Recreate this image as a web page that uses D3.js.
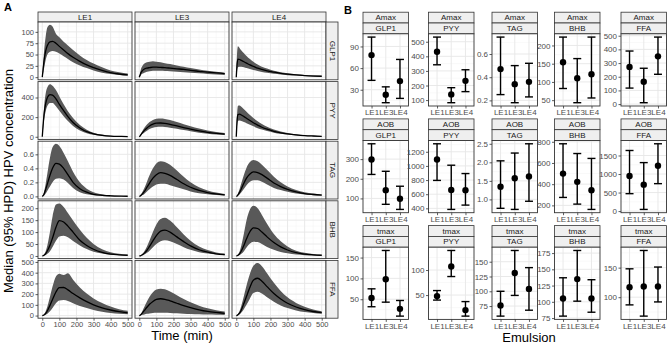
<!DOCTYPE html>
<html>
<head>
<meta charset="utf-8">
<script src="https://cdn.jsdelivr.net/npm/d3@7"></script>
<style>
body { margin: 0; background: #fff; }
svg { display: block; font-family: "Liberation Sans", Arial, sans-serif; }
</style>
</head>
<body>
<svg id="chart" width="669" height="347"></svg>
<script>
// ---- shared categories ----
const emulsions = ["LE1", "LE3", "LE4"]
const outcomes = ["GLP1", "PYY", "TAG", "BHB", "FFA"]
const metrics = ["Amax", "AOB", "tmax"]

// ---- panel A : median + 95% HPD over time (rows = emulsion LE1, LE3, LE4) ----
const times = [0, 5, 10, 20, 30, 45, 60, 80, 100, 125, 150, 180, 220, 260, 300, 350, 400, 450, 500]
const timeTicks = [0, 100, 200, 300, 400, 500]

const glp1Med = [
  [0, 18, 35, 58, 70, 78, 79, 75, 68, 60, 52, 44, 35, 27, 21, 15, 10, 7, 5],
  [0, 5, 10, 15, 18, 20, 21, 22, 22, 21.5, 21, 20, 18.5, 17, 15, 13, 11, 9.5, 8],
  [0, 30, 40, 39, 37, 34, 31, 27, 24, 20, 17, 14, 11, 8.5, 6.5, 5, 3.5, 2.5, 2]]
const glp1Lo = [
  [0, 8, 18, 38, 50, 56, 58, 56, 52, 46, 40, 33, 26, 20, 15, 10, 7, 5, 3],
  [0, 2, 5, 8, 10, 12, 13, 14, 14, 14, 13.5, 13, 12, 11, 10, 8.5, 7, 6, 5],
  [0, 15, 22, 23, 23, 22, 20, 18, 16, 13.5, 11.5, 9.5, 7.5, 6, 4.5, 3.5, 2.5, 1.8, 1.2]]
const glp1Hi = [
  [0, 30, 55, 90, 110, 116, 112, 96, 88, 78, 70, 60, 48, 38, 30, 22, 15, 11, 8],
  [0, 10, 18, 26, 30, 33, 34, 35, 34, 33, 31, 29, 26, 23, 20, 17, 14, 12, 10],
  [0, 55, 68, 64, 59, 53, 47, 40, 34, 28, 23, 19, 14, 11, 8.5, 6.5, 5, 4, 3]]

const pyyMed = [
  [0, 120, 220, 340, 400, 430, 425, 385, 330, 265, 205, 145, 90, 52, 30, 15, 7, 4, 2],
  [0, 10, 22, 45, 65, 90, 110, 128, 138, 140, 136, 126, 110, 94, 78, 60, 45, 34, 26],
  [0, 170, 225, 230, 222, 205, 188, 165, 143, 118, 97, 77, 56, 40, 29, 19, 12, 8, 5]]
const pyyLo = [
  [0, 80, 160, 260, 315, 345, 345, 310, 265, 210, 160, 110, 65, 36, 20, 9, 4, 2, 1],
  [0, 6, 14, 30, 44, 62, 78, 92, 100, 102, 100, 93, 81, 68, 56, 42, 31, 23, 17],
  [0, 115, 160, 165, 160, 150, 138, 122, 106, 88, 73, 58, 42, 30, 22, 14, 9, 6, 3.5]]
const pyyHi = [
  [0, 160, 290, 440, 505, 535, 520, 475, 410, 330, 260, 190, 120, 72, 42, 22, 11, 6, 3],
  [0, 15, 32, 65, 92, 125, 150, 172, 183, 186, 182, 170, 150, 128, 107, 84, 64, 49, 38],
  [0, 240, 315, 318, 305, 280, 255, 222, 192, 158, 130, 102, 74, 53, 38, 25, 16, 11, 7]]

const tagMed = [
  [0, 0.01, 0.03, 0.1, 0.18, 0.3, 0.4, 0.47, 0.46, 0.4, 0.31, 0.2, 0.11, 0.06, 0.03, 0.015, 0.008, 0.004, 0.002],
  [0, 0.005, 0.015, 0.04, 0.07, 0.13, 0.19, 0.26, 0.31, 0.34, 0.33, 0.3, 0.24, 0.18, 0.13, 0.085, 0.055, 0.035, 0.02],
  [0, 0.005, 0.02, 0.06, 0.11, 0.19, 0.26, 0.32, 0.35, 0.34, 0.31, 0.26, 0.19, 0.14, 0.1, 0.065, 0.04, 0.027, 0.018]]
const tagLo = [
  [0, 0.005, 0.01, 0.04, 0.08, 0.14, 0.2, 0.25, 0.26, 0.24, 0.19, 0.12, 0.06, 0.03, 0.015, 0.007, 0.003, 0.002, 0.001],
  [0, 0.002, 0.006, 0.018, 0.035, 0.07, 0.1, 0.14, 0.17, 0.18, 0.18, 0.16, 0.13, 0.1, 0.07, 0.045, 0.03, 0.02, 0.012],
  [0, 0.003, 0.01, 0.03, 0.06, 0.11, 0.16, 0.21, 0.23, 0.23, 0.21, 0.17, 0.12, 0.09, 0.065, 0.04, 0.025, 0.017, 0.011]]
const tagHi = [
  [0, 0.02, 0.06, 0.18, 0.33, 0.55, 0.7, 0.75, 0.72, 0.62, 0.5, 0.35, 0.2, 0.11, 0.06, 0.03, 0.015, 0.008, 0.004],
  [0, 0.01, 0.03, 0.07, 0.12, 0.21, 0.3, 0.4, 0.47, 0.5, 0.49, 0.45, 0.37, 0.28, 0.2, 0.13, 0.085, 0.055, 0.035],
  [0, 0.01, 0.04, 0.11, 0.19, 0.31, 0.41, 0.49, 0.52, 0.5, 0.45, 0.38, 0.28, 0.2, 0.14, 0.09, 0.06, 0.04, 0.027]]

const bhbMed = [
  [0, 1, 3, 10, 22, 45, 75, 120, 148, 142, 125, 100, 66, 44, 28, 15, 8, 5, 3],
  [0, 0.5, 2, 6, 12, 24, 40, 63, 85, 104, 108, 100, 80, 60, 42, 26, 16, 9, 6],
  [0, 1, 3, 10, 22, 45, 72, 102, 118, 115, 100, 80, 56, 38, 25, 14, 8, 5, 3]]
const bhbLo = [
  [0, 0.5, 1.5, 4, 9, 20, 38, 64, 82, 85, 78, 63, 44, 29, 18, 10, 5, 3, 1.5],
  [0, 0.3, 1, 3, 6, 13, 22, 36, 50, 62, 66, 62, 50, 37, 26, 16, 10, 6, 3.5],
  [0, 0.5, 1, 4, 9, 20, 35, 52, 60, 58, 50, 38, 26, 17, 11, 6, 3.5, 2, 1]]
const bhbHi = [
  [0, 2, 6, 20, 45, 100, 165, 215, 220, 205, 180, 148, 110, 76, 50, 28, 16, 9, 5],
  [0, 1, 3, 10, 20, 40, 65, 100, 132, 155, 160, 148, 120, 90, 64, 40, 25, 15, 10],
  [0, 2, 6, 20, 45, 95, 150, 195, 210, 200, 172, 135, 92, 62, 40, 22, 13, 8, 5]]

const ffaMed = [
  [0, 2, 6, 20, 45, 95, 150, 220, 260, 262, 240, 205, 165, 130, 100, 72, 52, 36, 26],
  [0, 3, 10, 28, 48, 78, 105, 132, 150, 157, 152, 138, 115, 93, 74, 54, 39, 29, 21],
  [0, 2, 8, 25, 55, 115, 180, 265, 330, 348, 320, 270, 205, 155, 115, 80, 55, 38, 27]]
const ffaLo = [
  [0, 1, 3, 8, 18, 40, 70, 115, 140, 145, 135, 115, 90, 70, 52, 36, 25, 17, 12],
  [0, 1, 3, 7, 11, 16, 20, 24, 26, 27, 26, 24, 21, 18, 15, 12, 9, 7, 5],
  [0, 1, 4, 12, 28, 62, 100, 160, 210, 222, 205, 170, 128, 95, 70, 48, 33, 23, 16]]
const ffaHi = [
  [0, 4, 12, 40, 85, 175, 270, 365, 390, 378, 395, 335, 262, 205, 160, 118, 85, 60, 44],
  [0, 5, 18, 48, 82, 132, 175, 218, 242, 250, 245, 225, 190, 155, 124, 92, 68, 50, 37],
  [0, 4, 15, 45, 95, 185, 280, 390, 465, 490, 460, 395, 305, 230, 170, 118, 82, 57, 40]]

const aTicks = [[0, 25, 50, 75, 100], [0, 200, 400], [0, 0.2, 0.4, 0.6], [0, 50, 100, 150, 200], [0, 100, 200, 300, 400, 500]]

// ---- panel B : posterior estimate with interval, per outcome (LE1, LE3, LE4) ----
const amaxMid = [[78, 23, 42], [431, 139, 232], [0.47, 0.34, 0.36], [154, 110, 121], [272, 163, 349]]
const amaxLo = [[43, 12, 18], [342, 82, 158], [0.25, 0.18, 0.23], [82, 43, 56], [117, 10, 218]]
const amaxHi = [[103, 34, 72], [532, 185, 308], [0.746, 0.5, 0.52], [223, 164, 223], [388, 262, 490]]

const aobMid = [[298, 142, 98], [1090, 660, 657], [1.34, 1.57, 1.62], [500, 422, 343], [946, 713, 1225]]
const aobLo = [[222, 70, 44], [795, 385, 446], [0.76, 0.73, 0.95], [275, 212, 162], [470, 45, 740]]
const aobHi = [[378, 238, 162], [1313, 1010, 892], [2.04, 2.25, 2.5], [781, 689, 643], [1635, 1308, 1816]]

const tmaxMid = [[53, 98, 27], [48, 107, 20], [76, 131, 104], [105, 135, 105], [117, 118, 118]]
const tmaxLo = [[32, 43, 9.5], [40, 87, 8], [58, 93, 68], [78, 101, 84], [87, 68, 92]]
const tmaxHi = [[75, 167, 47], [59, 139, 37], [100, 169, 140], [137, 179, 134], [148, 179, 151]]

const amaxTicks = [[30, 60, 90], [100, 200, 300, 400, 500], [0.2, 0.4, 0.6], [50, 100, 150, 200], [0, 100, 200, 300, 400, 500]]
const aobTicks = [[100, 200, 300], [400, 600, 800, 1000, 1200], [1.0, 1.5, 2.0, 2.5], [200, 400, 600, 800], [0, 500, 1000, 1500]]
const tmaxTicks = [[50, 100, 150], [50, 100], [75, 100, 125, 150], [75, 100, 125, 150, 175], [100, 150]]

// ---- helpers ----
const svg = d3.select("#chart")
const tickCol = "#4d4d4d", frameCol = "#333333"
const gridMajor = "#e6e6e6", gridMinor = "#f2f2f2"

const expand = (lo, hi) => [lo - (hi - lo) * 0.05, hi + (hi - lo) * 0.05]
const fmtFor = ticks => d3.format(ticks.some(t => !Number.isInteger(t)) ? ".1f" : "d")
const minorOf = (ticks, dom) => {
  const st = ticks[1] - ticks[0], out = []
  for (let v = ticks[0] - st / 2; v <= dom[1]; v += st) if (v >= dom[0]) out.push(v)
  return out
}

function styleAxis(g, size = "8px") {
  g.select(".domain").remove()
  g.selectAll(".tick line").attr("stroke", frameCol).attr("stroke-width", 0.8)
  g.selectAll(".tick text").attr("fill", tickCol).style("font-size", size)
    .style("font-family", "'Liberation Sans', Arial, sans-serif")
}

function strip(x, y, w, h, label, vertical) {
  svg.append("rect").attr("x", x).attr("y", y).attr("width", w).attr("height", h)
    .attr("fill", "#efefef").attr("stroke", frameCol).attr("stroke-width", 0.8)
  const t = svg.append("text").text(label).attr("fill", "#1a1a1a").style("font-size", "8px")
    .attr("text-anchor", "middle").attr("dominant-baseline", "central")
  if (vertical) t.attr("transform", `translate(${x + w / 2},${y + h / 2}) rotate(90)`)
  else t.attr("x", x + w / 2).attr("y", y + h / 2)
}

// ---- panel A ----
const aLeft = 38, aTop = 22, aW = 94, aH = 57.8, aGapX = 3, aGapY = 1.8
const ax = c => aLeft + c * (aW + aGapX)
const ay = r => aTop + r * (aH + aGapY)
const meds = [glp1Med, pyyMed, tagMed, bhbMed, ffaMed]
const los = [glp1Lo, pyyLo, tagLo, bhbLo, ffaLo]
const his = [glp1Hi, pyyHi, tagHi, bhbHi, ffaHi]
const xDom = expand(0, d3.max(times))

emulsions.forEach((e, c) => strip(ax(c), 12, aW, aTop - 12, e, false))

outcomes.forEach((o, r) => {
  const yDom = expand(0, d3.max(his[r].flat()))
  const y = d3.scaleLinear().domain(yDom).range([ay(r) + aH, ay(r)])
  const yFmt = fmtFor(aTicks[r])

  emulsions.forEach((e, c) => {
    const x = d3.scaleLinear().domain(xDom).range([ax(c), ax(c) + aW])
    const g = svg.append("g")
    g.append("rect").attr("x", ax(c)).attr("y", ay(r)).attr("width", aW).attr("height", aH).attr("fill", "#fff")
    minorOf(timeTicks, xDom).forEach(v => g.append("line").attr("x1", x(v)).attr("x2", x(v))
      .attr("y1", ay(r)).attr("y2", ay(r) + aH).attr("stroke", gridMinor).attr("stroke-width", 0.5))
    minorOf(aTicks[r], yDom).forEach(v => g.append("line").attr("y1", y(v)).attr("y2", y(v))
      .attr("x1", ax(c)).attr("x2", ax(c) + aW).attr("stroke", gridMinor).attr("stroke-width", 0.5))
    timeTicks.forEach(v => g.append("line").attr("x1", x(v)).attr("x2", x(v))
      .attr("y1", ay(r)).attr("y2", ay(r) + aH).attr("stroke", gridMajor).attr("stroke-width", 0.9))
    aTicks[r].forEach(v => g.append("line").attr("y1", y(v)).attr("y2", y(v))
      .attr("x1", ax(c)).attr("x2", ax(c) + aW).attr("stroke", gridMajor).attr("stroke-width", 0.9))

    const pts = times.map((t, k) => ({ t, m: meds[r][c][k], lo: los[r][c][k], hi: his[r][c][k] }))
    g.append("path").datum(pts).attr("fill", "#595959")
      .attr("d", d3.area().x(d => x(d.t)).y0(d => y(d.lo)).y1(d => y(d.hi)).curve(d3.curveMonotoneX))
    g.append("path").datum(pts).attr("fill", "none").attr("stroke", "#000").attr("stroke-width", 1.3)
      .attr("d", d3.line().x(d => x(d.t)).y(d => y(d.m)).curve(d3.curveMonotoneX))
    g.append("rect").attr("x", ax(c)).attr("y", ay(r)).attr("width", aW).attr("height", aH)
      .attr("fill", "none").attr("stroke", frameCol).attr("stroke-width", 0.9)

    if (c === 0) {
      svg.append("g").attr("transform", `translate(${ax(0)},0)`)
        .call(d3.axisLeft(y).tickValues(aTicks[r]).tickFormat(yFmt).tickSize(2.5).tickPadding(1.5))
        .call(g => styleAxis(g, "7.5px"))
    }
    if (r === outcomes.length - 1) {
      svg.append("g").attr("transform", `translate(0,${ay(r) + aH})`)
        .call(d3.axisBottom(x).tickValues(timeTicks).tickSize(2.5).tickPadding(1))
        .call(g => styleAxis(g, "7.5px"))
    }
  })
  strip(ax(2) + aW, ay(r), 12, aH, o, true)
})

svg.append("text").text("Time (min)").attr("x", (ax(0) + ax(2) + aW) / 2).attr("y", 340)
  .attr("text-anchor", "middle").style("font-size", "13px").attr("fill", "#000")
svg.append("text").text("Median (95% HPD) HPV concentration")
  .attr("transform", "translate(13,181) rotate(-90)")
  .attr("text-anchor", "middle").style("font-size", "13px").attr("fill", "#000")
svg.append("text").text("A").attr("x", 4).attr("y", 11).style("font-size", "11px").style("font-weight", "bold")

// ---- panel B ----
const bLefts = [363, 428.5, 492, 554.5, 621], bW = 45.5
const bTops = [12.2, 118.9, 225.6], stripH = 10.8, bH = 72.2
const bMid = [amaxMid, aobMid, tmaxMid], bLo = [amaxLo, aobLo, tmaxLo], bHi = [amaxHi, aobHi, tmaxHi]
const bTicks = [amaxTicks, aobTicks, tmaxTicks]

metrics.forEach((m, mi) => {
  const top = bTops[mi] + 2 * stripH
  outcomes.forEach((o, oi) => {
    const left = bLefts[oi]
    strip(left, bTops[mi], bW, stripH, m, false)
    strip(left, bTops[mi] + stripH, bW, stripH, o, false)

    const rows = emulsions.map((e, k) => ({ e, mid: bMid[mi][oi][k], lo: bLo[mi][oi][k], hi: bHi[mi][oi][k] }))
    const yDom = expand(d3.min(rows, d => d.lo), d3.max(rows, d => d.hi))
    const y = d3.scaleLinear().domain(yDom).range([top + bH, top])
    const x = d3.scalePoint().domain(emulsions).range([left, left + bW]).padding(0.6)
    const ticks = bTicks[mi][oi]

    const g = svg.append("g")
    g.append("rect").attr("x", left).attr("y", top).attr("width", bW).attr("height", bH).attr("fill", "#fff")
    minorOf(ticks, yDom).forEach(v => g.append("line").attr("y1", y(v)).attr("y2", y(v))
      .attr("x1", left).attr("x2", left + bW).attr("stroke", gridMinor).attr("stroke-width", 0.5))
    ticks.forEach(v => g.append("line").attr("y1", y(v)).attr("y2", y(v))
      .attr("x1", left).attr("x2", left + bW).attr("stroke", gridMajor).attr("stroke-width", 0.9))
    emulsions.forEach(e => g.append("line").attr("x1", x(e)).attr("x2", x(e))
      .attr("y1", top).attr("y2", top + bH).attr("stroke", gridMajor).attr("stroke-width", 0.9))

    const bars = g.selectAll(".eb").data(rows).join("g")
    bars.append("line").attr("x1", d => x(d.e)).attr("x2", d => x(d.e))
      .attr("y1", d => y(d.lo)).attr("y2", d => y(d.hi)).attr("stroke", "#000").attr("stroke-width", 1.4)
    bars.append("line").attr("x1", d => x(d.e) - 4).attr("x2", d => x(d.e) + 4)
      .attr("y1", d => y(d.hi)).attr("y2", d => y(d.hi)).attr("stroke", "#000").attr("stroke-width", 1.4)
    bars.append("line").attr("x1", d => x(d.e) - 4).attr("x2", d => x(d.e) + 4)
      .attr("y1", d => y(d.lo)).attr("y2", d => y(d.lo)).attr("stroke", "#000").attr("stroke-width", 1.4)
    bars.append("circle").attr("cx", d => x(d.e)).attr("cy", d => y(d.mid)).attr("r", 3.2).attr("fill", "#000")

    g.append("rect").attr("x", left).attr("y", top).attr("width", bW).attr("height", bH)
      .attr("fill", "none").attr("stroke", frameCol).attr("stroke-width", 0.9)

    svg.append("g").attr("transform", `translate(${left},0)`)
      .call(d3.axisLeft(y).tickValues(ticks).tickFormat(fmtFor(ticks)).tickSize(2.5).tickPadding(1.5))
      .call(styleAxis)
    svg.append("g").attr("transform", `translate(0,${top + bH})`)
      .call(d3.axisBottom(x).tickSize(2.5).tickPadding(1))
      .call(styleAxis)
  })
})

svg.append("text").text("Emulsion").attr("x", 529).attr("y", 342)
  .attr("text-anchor", "middle").style("font-size", "13px").attr("fill", "#000")
svg.append("text").text("B").attr("x", 344).attr("y", 14).style("font-size", "11px").style("font-weight", "bold")
</script>
</body>
</html>
